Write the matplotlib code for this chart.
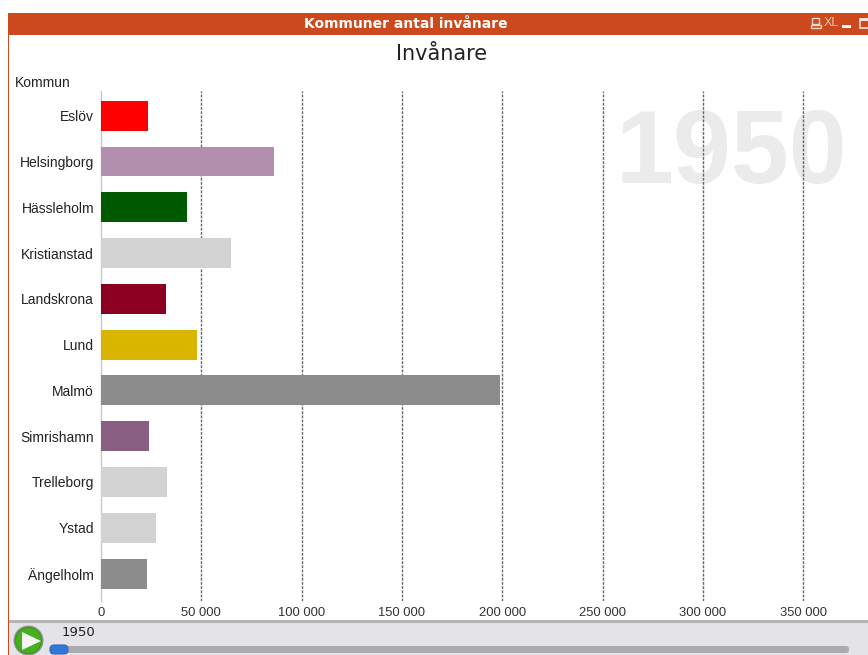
import matplotlib
matplotlib.use("Agg")
import matplotlib.pyplot as plt
from matplotlib.patches import Rectangle, Circle, FancyBboxPatch, Polygon
from matplotlib.ticker import FuncFormatter

municipalities = ["Eslöv", "Helsingborg", "Hässleholm", "Kristianstad", "Landskrona", "Lund",
                  "Malmö", "Simrishamn", "Trelleborg", "Ystad", "Ängelholm"]
residents = [23400, 86300, 42900, 64700, 32400, 47900, 198900, 23900, 32900, 27300, 22900]
bar_colors = ["#FF0000", "#B28FAC", "#005A00", "#D3D3D3", "#8B0020", "#D9B500",
              "#8C8C8C", "#885F80", "#D3D3D3", "#D3D3D3", "#8C8C8C"]
x_ticks = [0, 50000, 100000, 150000, 200000, 250000, 300000, 350000]
year = "1950"
window_title = "Kommuner antal invånare"
chart_title = "Invånare"
axis_title = "Kommun"

W, H = 868, 655
SANS = "Liberation Sans"
fig = plt.figure(figsize=(W / 100, H / 100), dpi=100, facecolor="white")

# Window chrome is laid out on a pixel-based overlay
chrome = fig.add_axes([0, 0, 1, 1], zorder=0)
chrome.set_xlim(0, W)
chrome.set_ylim(H, 0)
chrome.axis("off")
chrome.add_patch(Rectangle((8, 13), W - 8, 22, fc="#CB491C", ec="none"))
chrome.add_patch(Rectangle((8, 13), 1.3, H - 13, fc="#CB491C", ec="none"))
chrome.add_patch(Rectangle((9.3, 620), W, 2.5, fc="#B4B4B8", ec="none"))
chrome.add_patch(Rectangle((9.3, 622.5), W, H - 622, fc="#E3E3E8", ec="none"))
chrome.text(406, 23.5, window_title, color="white", fontsize=10, fontweight="bold",
            family="DejaVu Sans", ha="center", va="center")
chrome.text(442, 54, chart_title, color="#222222", fontsize=15, family="DejaVu Sans",
            ha="center", va="center")
chrome.text(15, 83, axis_title, color="#222222", fontsize=10, family=SANS, ha="left", va="center")

# Watermark with the current year, behind the plot
chrome.text(731, 157, year, color="#EBEBEB", fontsize=75, fontweight="bold", family=SANS,
            ha="center", va="center")

# Header icons
chrome.add_patch(Rectangle((812, 17.5), 7, 6.5, fc="none", ec="#F3D9CC", lw=1))
chrome.add_patch(Rectangle((811, 25), 10, 2.5, fc="none", ec="#F3D9CC", lw=1))
chrome.text(831.5, 23, "XL", color="#F0C4AE", fontsize=9, family=SANS, ha="center", va="center")
chrome.add_patch(Rectangle((842, 25), 9, 3, fc="white", ec="none"))
chrome.add_patch(Rectangle((860, 18.5), 9, 9, fc="none", ec="#F7E3D9", lw=1.2))
chrome.add_patch(Rectangle((860, 18), 9, 2.5, fc="#F7E3D9", ec="none"))

# Play button and time slider
chrome.add_patch(Circle((28.5, 640.5), 15, fc="#8A958A", ec="none"))
chrome.add_patch(Circle((28.5, 640.5), 13, fc="#46B020", ec="#349A14", lw=0.8))
chrome.add_patch(Polygon([[22, 632], [22, 650], [41, 641]], closed=True, fc="#F4F8F0", ec="none"))
chrome.text(62, 632, year, color="#222222", fontsize=9.5, family="DejaVu Sans", ha="left", va="center")
chrome.add_patch(FancyBboxPatch((54, 646), 795, 7, boxstyle="round,pad=0,rounding_size=3",
                                fc="#ABABAF", ec="none"))
chrome.add_patch(FancyBboxPatch((50, 645), 18, 9, boxstyle="round,pad=0,rounding_size=4",
                                fc="#2F78DC", ec="#3A66B0", lw=0.8))

# Bar chart, transparent so the watermark shows through
left, right, top, bottom = 101, W, 91, 601
ax = fig.add_axes([left / W, 1 - bottom / H, (right - left) / W, (bottom - top) / H], zorder=1)
ax.patch.set_alpha(0)
positions = list(range(len(municipalities)))
ax.barh(positions, residents, height=0.655, color=bar_colors, zorder=3)
ax.set_ylim(10.60, -0.54)
ax.set_xlim(0, (right - left) / (100.3 / 50000))
ax.set_xticks(x_ticks)
ax.xaxis.set_major_formatter(FuncFormatter(lambda v, _: f"{int(v):,}".replace(",", " ")))
ax.set_yticks(positions, municipalities)
ax.grid(axis="x", color="#666666", linestyle=(0, (2, 1)), linewidth=1, zorder=1)
ax.xaxis.get_gridlines()[0].set_visible(False)
for side in ("top", "right", "bottom"):
    ax.spines[side].set_visible(False)
ax.spines["left"].set_color("#C8C8C8")
ax.spines["left"].set_linewidth(1)
ax.tick_params(axis="both", length=0)
ax.tick_params(axis="x", pad=4, labelsize=9.4, labelcolor="#333333")
ax.tick_params(axis="y", pad=5, labelsize=10, labelcolor="#222222")
for label in ax.get_xticklabels() + ax.get_yticklabels():
    label.set_family(SANS)

fig.savefig("out.png", dpi=100)
